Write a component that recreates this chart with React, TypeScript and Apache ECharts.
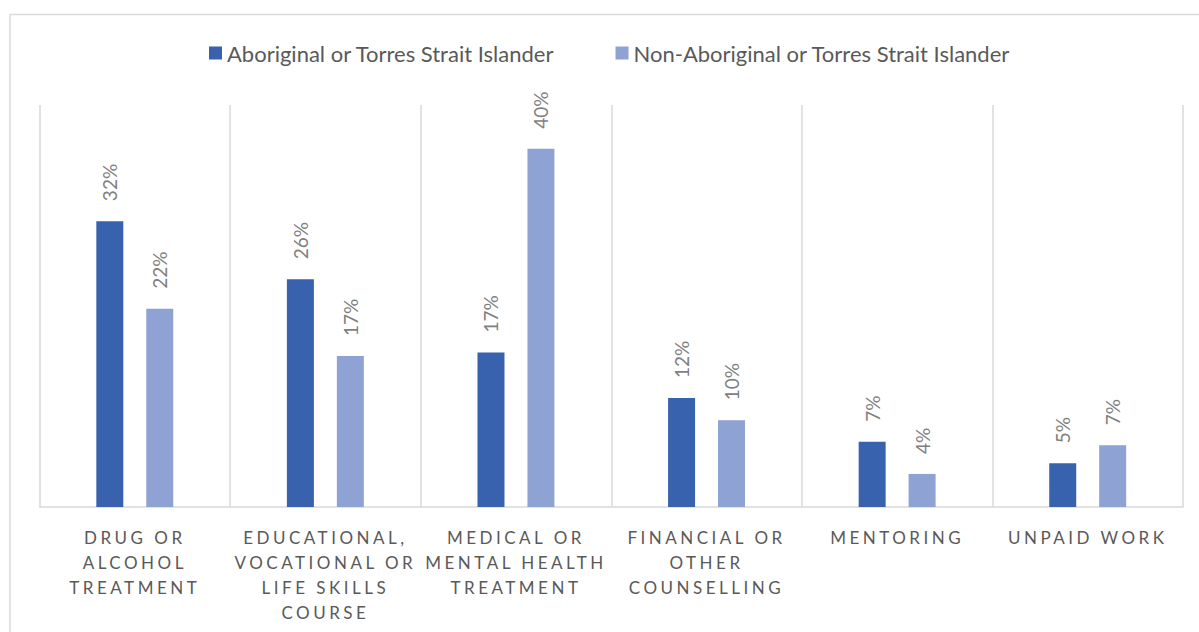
import React, { useEffect, useRef } from "react";
import * as echarts from "echarts";

const categories = [
  "DRUG OR\nALCOHOL\nTREATMENT",
  "EDUCATIONAL,\nVOCATIONAL OR\nLIFE SKILLS\nCOURSE",
  "MEDICAL OR\nMENTAL HEALTH\nTREATMENT",
  "FINANCIAL OR\nOTHER\nCOUNSELLING",
  "MENTORING",
  "UNPAID WORK",
];
const seriesNames = [
  "Aboriginal or Torres Strait Islander",
  "Non-Aboriginal or Torres Strait Islander",
];
const aboriginal = [32, 25.5, 17.3, 12.2, 7.3, 4.9];
const nonAboriginal = [22.2, 16.9, 40.1, 9.7, 3.7, 6.9];
const colors = ["#3862ad", "#8fa2d4"];

const labelLines = new Set<string>();
categories.forEach((c) => c.split("\n").forEach((l) => labelLines.add(l)));

export default function App() {
  const ref = useRef<HTMLDivElement>(null);
  useEffect(() => {
    if (!ref.current) return;
    const chart = echarts.init(ref.current, undefined, { renderer: "svg" });
    const font = "Lato, 'Open Sans', sans-serif";
    const label = {
      show: true,
      position: "top",
      rotate: 90,
      align: "left",
      verticalAlign: "middle",
      distance: 17,
      offset: [3, 0],
      color: "#7f7f7f",
      fontSize: 19,
      fontFamily: font,
      formatter: (p: any) => Math.round(p.value) + "%",
    };
    chart.setOption({
      animation: false,
      textStyle: { fontFamily: font },
      graphic: [
        {
          type: "rect",
          shape: { x: 10, y: 14.5, width: 1220, height: 650 },
          style: { fill: "none", stroke: "#d9d9d9", lineWidth: 1.5 },
          silent: true,
          z: -10,
        },
      ],
      legend: {
        top: 37,
        left: 204,
        itemWidth: 13,
        itemHeight: 13,
        itemGap: 61,
        icon: "rect",
        textStyle: { color: "#595959", fontSize: 22, fontFamily: font },
        data: seriesNames,
      },
      grid: { left: 39.5, right: 16, top: 105, bottom: 125 },
      xAxis: {
        type: "category",
        data: categories,
        axisLine: { lineStyle: { color: "#d9d9d9", width: 1.5 } },
        axisTick: { show: false },
        splitLine: { show: true, lineStyle: { color: "#d9d9d9", width: 1.5 } },
        axisLabel: {
          interval: 0,
          color: "#595959",
          fontSize: 17,
          lineHeight: 25,
          margin: 18,
          fontFamily: font,
        },
      },
      yAxis: {
        type: "value",
        min: 0,
        max: 45,
        show: false,
        splitLine: { show: false },
      },
      series: [
        {
          name: seriesNames[0],
          type: "bar",
          data: aboriginal,
          barWidth: 27,
          barGap: "85%",
          itemStyle: { color: colors[0] },
          label,
        },
        {
          name: seriesNames[1],
          type: "bar",
          data: nonAboriginal,
          barWidth: 27,
          barGap: "85%",
          itemStyle: { color: colors[1] },
          label,
        },
      ],
    });
    const spaceOut = () => {
      const texts = ref.current?.querySelectorAll("text") || [];
      texts.forEach((t: any) => {
        if (labelLines.has((t.textContent || "").trim())) {
          t.style.letterSpacing = "3.5px";
        }
      });
    };
    spaceOut();
    chart.on("finished", spaceOut);
    return () => chart.dispose();
  }, []);
  return (
    <div
      ref={ref}
      style={{ position: "fixed", left: 0, top: 0, width: 1199, height: 632, background: "#fff" }}
    />
  );
}
